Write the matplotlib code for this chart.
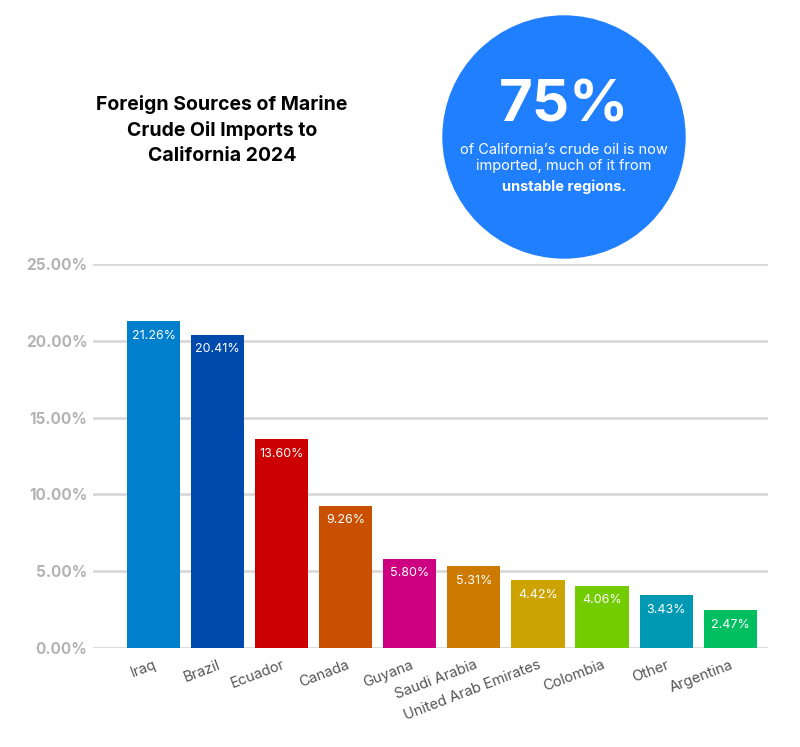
import matplotlib.pyplot as plt
from matplotlib.patches import Ellipse

plt.rcParams['font.family'] = ['Inter', 'DejaVu Sans']

countries = ['Iraq', 'Brazil', 'Ecuador', 'Canada', 'Guyana', 'Saudi Arabia',
             'United Arab Emirates', 'Colombia', 'Other', 'Argentina']
shares = [21.26, 20.41, 13.60, 9.26, 5.80, 5.31, 4.42, 4.06, 3.43, 2.47]
colors = ['#0080cc', '#004aad', '#cc0000', '#c85000', '#cc0080', '#cc7a00',
          '#cca300', '#73cc00', '#0099b3', '#00bf60']
yticks = [0, 5, 10, 15, 20, 25]

W, H = 800, 747
fig = plt.figure(figsize=(W / 100, H / 100), dpi=100)
ax = fig.add_axes([93 / W, 99 / H, 675 / W, 384 / H])

x = range(len(countries))
ax.bar(x, shares, width=0.83, color=colors, zorder=3)
for i, v in zip(x, shares):
    ax.text(i, v - 0.55, f'{v:.2f}%', ha='center', va='top', color='white',
            fontsize=9, zorder=4)

ax.set_xlim(-0.945, 9.59)
ax.set_ylim(0, 25)
ax.set_yticks(yticks)
ax.set_yticklabels([f'{t:.2f}%' for t in yticks], color='#b3b3b3',
                   fontsize=11, fontweight='bold')
ax.yaxis.grid(True, color='#d9d9d9', lw=2, zorder=0)
ax.tick_params(axis='y', length=0, pad=4)
ax.tick_params(axis='x', length=0, pad=7)
ax.set_xticks(list(x))
ax.set_xticklabels(countries, rotation=21, ha='right', rotation_mode='anchor',
                   color='#555555', fontsize=10.5)
for s in ax.spines.values():
    s.set_visible(False)

# title
fig.text(222 / W, 1 - 130 / H,
         'Foreign Sources of Marine\nCrude Oil Imports to\nCalifornia 2024',
         ha='center', va='center', fontsize=14, fontweight='bold',
         linespacing=1.45)

# callout circle
cx, cy, r = 564, 137, 121
circ = Ellipse((cx / W, 1 - cy / H), 2 * r / W, 2 * r / H,
               transform=fig.transFigure, color='#1f7fff', zorder=0)
fig.patches.append(circ)
fig.text(cx / W, 1 - 107 / H, '75%', ha='center', va='center', color='white',
         fontsize=42, fontweight='bold')
fig.text(cx / W, 1 - 158 / H,
         "of California\u2019s crude oil is now\nimported, much of it from",
         ha='center', va='center', color='white', fontsize=10.5,
         linespacing=1.25)
fig.text(cx / W, 1 - 187 / H, 'unstable regions.', ha='center', va='center',
         color='white', fontsize=10.5, fontweight='bold')

fig.savefig('out.png', dpi=100)
